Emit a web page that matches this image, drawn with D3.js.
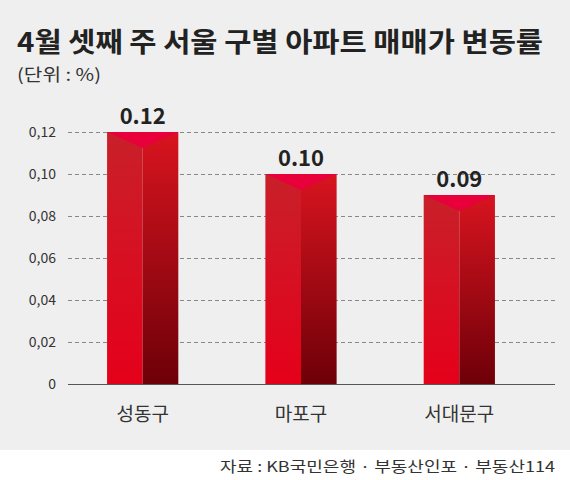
<!DOCTYPE html>
<html><head><meta charset="utf-8">
<script src="https://cdn.jsdelivr.net/npm/d3@7"></script>
<style>body{margin:0;background:#fff}text{font-family:"Noto Sans CJK KR",sans-serif}</style>
</head><body><div id="chart"></div>
<script>
const districts = ["성동구", "마포구", "서대문구"];
const changes = [0.12, 0.10, 0.09];
const tickValues = [0, 0.02, 0.04, 0.06, 0.08, 0.10, 0.12];

const W = 570, H = 480;
const svg = d3.select("#chart").append("svg").attr("width", W).attr("height", H);
svg.append("rect").attr("width", W).attr("height", 450).attr("fill", "#efefef");

const defs = svg.append("defs");
const gl = defs.append("linearGradient").attr("id", "gl").attr("x1", 0).attr("y1", 0).attr("x2", 0).attr("y2", 1);
gl.append("stop").attr("offset", 0).attr("stop-color", "#c8202a");
gl.append("stop").attr("offset", 1).attr("stop-color", "#e5001a");
const gr = defs.append("linearGradient").attr("id", "gr").attr("x1", 0).attr("y1", 0).attr("x2", 0).attr("y2", 1);
gr.append("stop").attr("offset", 0).attr("stop-color", "#d8141f");
gr.append("stop").attr("offset", 1).attr("stop-color", "#6e0008");

svg.append("text").attr("x", 17).attr("y", 52).attr("font-size", 27).attr("font-weight", 700)
  .attr("fill", "#222").attr("textLength", 526).attr("lengthAdjust", "spacingAndGlyphs")
  .text("4월 셋째 주 서울 구별 아파트 매매가 변동률");
svg.append("text").attr("x", 17).attr("y", 81).attr("font-size", 17).attr("fill", "#333")
  .attr("textLength", 84).attr("lengthAdjust", "spacingAndGlyphs").text("(단위 : %)");

const y = d3.scaleLinear().domain([0, 0.12]).range([384, 132]);
const x = d3.scaleBand().domain(districts).range([62, 538]).paddingInner(0.9).paddingOuter(0.35);
// band -> approx 84 wide centers 141, 301, 461
const xb = d3.scaleBand().domain(districts).range([20, 582]).padding(0.55);

const yAxis = svg.append("g").attr("transform", "translate(68,0)")
  .call(d3.axisLeft(y).tickValues(tickValues).tickSize(-487).tickFormat(d => d === 0 ? "0" : d3.format(".2f")(d).replace(".", ",")));
yAxis.select(".domain").remove();
yAxis.selectAll(".tick line").attr("stroke", "#888").attr("stroke-dasharray", "4,3")
  .filter(d => d === 0).attr("stroke", "#555").attr("stroke-dasharray", null);
yAxis.selectAll(".tick text").attr("x", -12).attr("font-size", 14).attr("fill", "#333")
  .attr("font-family", "Liberation Sans Narrow, Liberation Sans, sans-serif");

const bars = svg.append("g").selectAll("g").data(districts).join("g");
bars.each(function (d, i) {
  const g = d3.select(this);
  const bw = xb.bandwidth(), x0 = xb(d), top = y(changes[i]), bot = y(0);
  g.append("rect").attr("x", x0).attr("y", top).attr("width", bw / 2).attr("height", bot - top).attr("fill", "url(#gl)");
  g.append("rect").attr("x", x0 + bw / 2).attr("y", top).attr("width", bw / 2).attr("height", bot - top).attr("fill", "url(#gr)");
  g.append("path").attr("d", `M${x0},${top}L${x0 + bw},${top}L${x0 + bw / 2},${top + 16}Z`).attr("fill", "#e8003a");
  g.append("text").attr("x", x0 + bw / 2).attr("y", top - 8).attr("text-anchor", "middle")
    .attr("font-size", 22).attr("font-weight", 700).attr("fill", "#222")
    .attr("font-family", "Liberation Sans, sans-serif").text(d3.format(".2f")(changes[i]));
  g.append("text").attr("x", x0 + bw / 2).attr("y", 421).attr("text-anchor", "middle")
    .attr("font-size", 19).attr("fill", "#333").text(d);
});

svg.append("text").attr("x", 555).attr("y", 472).attr("text-anchor", "end").attr("font-size", 15)
  .attr("fill", "#333").attr("textLength", 335).attr("lengthAdjust", "spacingAndGlyphs")
  .text("자료 : KB국민은행 · 부동산인포 · 부동산114");
</script></body></html>
